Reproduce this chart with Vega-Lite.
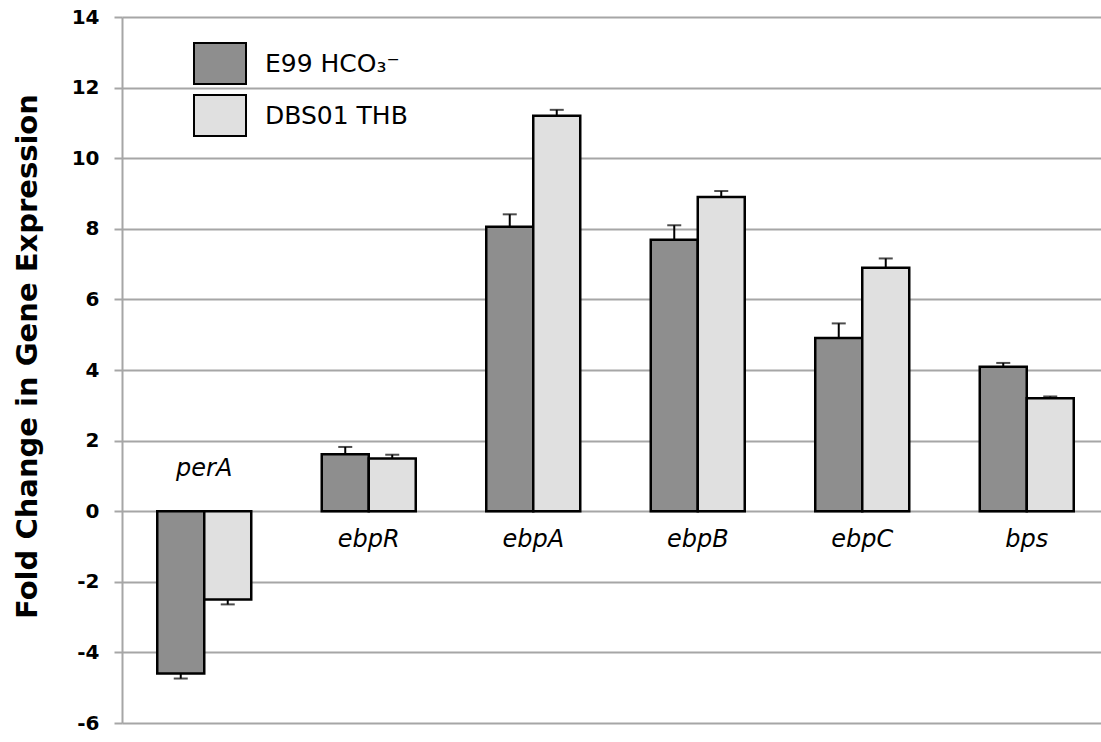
{
  "$schema": "https://vega.github.io/schema/vega-lite/v6.json",
  "autosize": "none",
  "width": 979,
  "height": 706,
  "padding": {"left": 122, "top": 17, "right": 0, "bottom": 19},
  "background": "white",
  "config": {
    "view": {"stroke": null},
    "font": "DejaVu Sans"
  },
  "data": {
    "values": [
      {"gene": "perA", "series": "E99 HCO₃⁻", "value": -4.6, "errEnd": -4.74},
      {"gene": "perA", "series": "DBS01 THB", "value": -2.5, "errEnd": -2.64},
      {"gene": "ebpR", "series": "E99 HCO₃⁻", "value": 1.61, "errEnd": 1.82},
      {"gene": "ebpR", "series": "DBS01 THB", "value": 1.49, "errEnd": 1.6},
      {"gene": "ebpA", "series": "E99 HCO₃⁻", "value": 8.06, "errEnd": 8.41},
      {"gene": "ebpA", "series": "DBS01 THB", "value": 11.2, "errEnd": 11.37},
      {"gene": "ebpB", "series": "E99 HCO₃⁻", "value": 7.69, "errEnd": 8.1},
      {"gene": "ebpB", "series": "DBS01 THB", "value": 8.9, "errEnd": 9.07},
      {"gene": "ebpC", "series": "E99 HCO₃⁻", "value": 4.91, "errEnd": 5.32},
      {"gene": "ebpC", "series": "DBS01 THB", "value": 6.9, "errEnd": 7.16},
      {"gene": "bps", "series": "E99 HCO₃⁻", "value": 4.09, "errEnd": 4.2},
      {"gene": "bps", "series": "DBS01 THB", "value": 3.2, "errEnd": 3.25}
    ]
  },
  "encoding": {
    "x": {
      "field": "gene",
      "type": "nominal",
      "sort": ["perA", "ebpR", "ebpA", "ebpB", "ebpC", "bps"],
      "scale": {"range": [0, 987], "paddingInner": 0.4286, "paddingOuter": 0.2143},
      "axis": null
    },
    "xOffset": {
      "field": "series",
      "type": "nominal",
      "sort": ["E99 HCO₃⁻", "DBS01 THB"],
      "scale": {"paddingInner": 0, "paddingOuter": 0}
    }
  },
  "layer": [
    {
      "mark": {"type": "bar", "stroke": "black", "strokeWidth": 2.5},
      "encoding": {
        "y": {
          "field": "value",
          "type": "quantitative",
          "scale": {"domain": [-6, 14], "nice": false, "zero": false},
          "axis": {
            "values": [-6, -4, -2, 0, 2, 4, 6, 8, 10, 12, 14],
            "labelExpr": "datum.value < 0 ? '-' + abs(datum.value) : '' + datum.value",
            "title": "Fold Change in Gene Expression",
            "titleFont": "DejaVu Sans",
            "titleFontSize": 29,
            "titleFontWeight": "bold",
            "titleColor": "black",
            "titleAngle": 270,
            "titleBaseline": "alphabetic",
            "titleAlign": "center",
            "titleX": -86,
            "titleY": 339,
            "labelFont": "DejaVu Sans",
            "labelFontSize": 20,
            "labelFontWeight": "bold",
            "labelColor": "black",
            "labelPadding": 15,
            "tickSize": 8,
            "tickWidth": 2,
            "tickColor": "#a6a6a6",
            "domainColor": "#a6a6a6",
            "domainWidth": 2,
            "gridColor": "#a6a6a6",
            "gridWidth": 2,
            "grid": true
          }
        },
        "fill": {
          "field": "series",
          "type": "nominal",
          "sort": ["E99 HCO₃⁻", "DBS01 THB"],
          "scale": {"range": ["#8e8e8e", "#e0e0e0"]},
          "legend": {
            "title": null,
            "orient": "none",
            "legendX": 71,
            "legendY": 19.5,
            "padding": 0,
            "rowPadding": -2,
            "symbolType": "M-1,-0.79H1V0.79H-1Z",
            "symbolSize": 2704,
            "symbolStrokeColor": "black",
            "symbolStrokeWidth": 2,
            "symbolOpacity": 1,
            "labelFont": "DejaVu Sans",
            "labelFontSize": 25,
            "labelColor": "black",
            "labelOffset": 18,
            "labelLimit": 400,
            "encode": {
              "symbols": {
                "update": {
                  "fill": {"signal": "datum.value === 'E99 HCO₃⁻' ? '#8c8c8c' : '#cccccc'"},
                  "stroke": {"value": "black"},
                  "strokeWidth": {"value": 2}
                }
              }
            }
          }
        }
      }
    },
    {
      "mark": {"type": "rule", "stroke": "black", "strokeWidth": 2},
      "encoding": {
        "y": {"field": "value", "type": "quantitative"},
        "y2": {"field": "errEnd"}
      }
    },
    {
      "mark": {"type": "tick", "color": "black", "size": 14, "thickness": 2, "orient": "horizontal"},
      "encoding": {
        "y": {"field": "errEnd", "type": "quantitative"}
      }
    },
    {
      "transform": [
        {"filter": "datum.series === 'E99 HCO₃⁻'"},
        {"calculate": "datum.value < 0 ? 0.99 : -1.02", "as": "labelY"}
      ],
      "mark": {
        "type": "text",
        "font": "DejaVu Sans",
        "fontSize": 24,
        "fontStyle": "italic",
        "baseline": "alphabetic",
        "align": "center",
        "color": "black"
      },
      "encoding": {
        "xOffset": {"value": 47},
        "y": {"field": "labelY", "type": "quantitative"},
        "text": {"field": "gene", "type": "nominal"}
      }
    }
  ]
}
